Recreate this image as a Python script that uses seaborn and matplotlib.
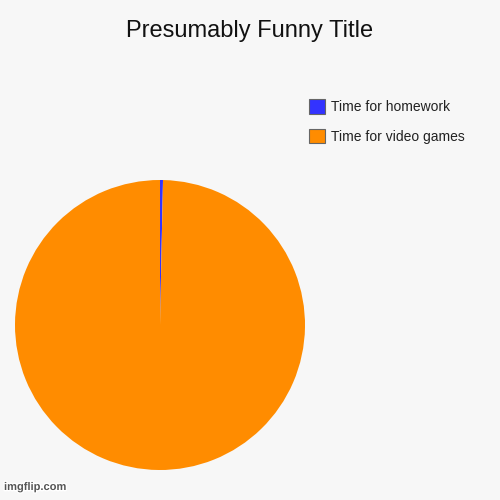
import matplotlib
matplotlib.use("Agg")
import matplotlib.pyplot as plt
import matplotlib.patheffects as pe
from matplotlib.patches import Patch
import seaborn as sns

title = "Presumably Funny Title"
labels = ["Time for homework", "Time for video games"]
values = [0.33, 99.67]
colors = ["#3333FF", "#FF8C00"]

sns.set_theme(style="white")
plt.rcParams['font.family'] = ['Liberation Sans', 'DejaVu Sans']
bg = "#F7F7F7"

fig = plt.figure(figsize=(5, 5), dpi=100, facecolor=bg)
ax = fig.add_axes([15/500, 30/500, 290/500, 290/500])
ax.set_facecolor(bg)
palette = sns.color_palette(colors)
ax.pie(values, colors=palette, startangle=90, counterclock=False,
       radius=1, wedgeprops=dict(linewidth=0))
ax.set_xlim(-1, 1)
ax.set_ylim(-1, 1)
ax.set_aspect("equal")
ax.axis("off")

fig.text(0.5, 1 - 31/500, title, ha="center", va="center", fontsize=17, color="#111111")

handles = [Patch(facecolor=c, edgecolor="#666666", linewidth=0.8) for c in palette]
fig.legend(handles, labels, loc="upper left", bbox_to_anchor=(296/500, 1 - 87/500),
           frameon=False, fontsize=10, handlelength=1.2, handleheight=1.2,
           handletextpad=0.45, labelspacing=1.05, labelcolor="#222222")

fig.text(4/500, 8/500, "imgflip.com", ha="left", va="bottom", fontsize=8, color="#555555",
         fontweight="bold",
         path_effects=[pe.withStroke(linewidth=2, foreground="white")])

fig.savefig("out.png", dpi=100, facecolor=bg)
